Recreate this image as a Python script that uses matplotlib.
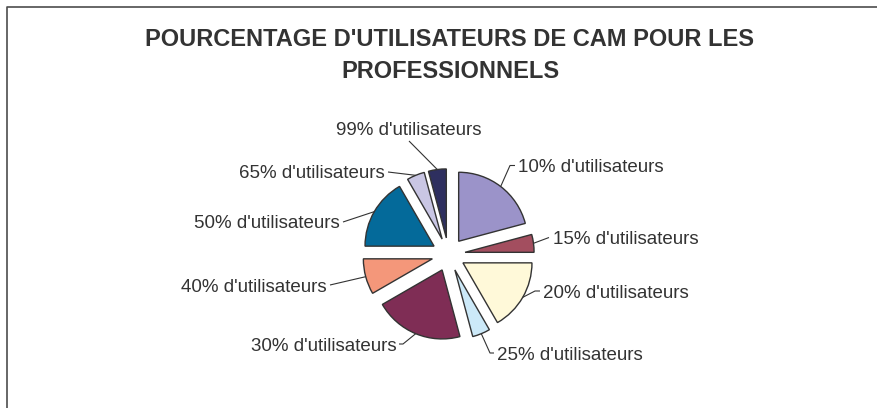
import matplotlib
matplotlib.use("Agg")
import matplotlib.pyplot as plt
import numpy as np

# ---------------- data ----------------
categories = ["10% d'utilisateurs", "15% d'utilisateurs", "20% d'utilisateurs",
              "25% d'utilisateurs", "30% d'utilisateurs", "40% d'utilisateurs",
              "50% d'utilisateurs", "65% d'utilisateurs", "99% d'utilisateurs"]
counts = [5, 1, 4, 1, 5, 2, 4, 1, 1]
colors = ["#9B93C9", "#A34E5F", "#FFF9D9", "#CCE9F8", "#7F2D55",
          "#F4977A", "#046A9A", "#C9C6E4", "#2E2F5F"]
title_lines = ["POURCENTAGE D'UTILISATEURS DE CAM POUR LES", "PROFESSIONNELS"]

# ---------------- layout (pixels, y from top) ----------------
W, H = 878, 408
PIE_CENTER = (448.5, 254.5)
PIE_RADIUS = 69
EXPLODE_PX = 16.7   # offset of each slice (matplotlib uses data units)
# text x, baseline y, alignment, leader knee points
label_layout = [
    (518, 172.4, "left", [(510, 165.5), (515, 165.5)]),
    (553, 243.7, "left", [(549, 237.5)]),
    (543, 297.7, "left", [(535, 291), (540, 291)]),
    (497, 359.7, "left", [(490, 353), (494, 353)]),
    (397, 350.7, "right", [(403, 344), (399, 344)]),
    (327, 291.7, "right", [(330, 285)]),
    (340, 228.4, "right", [(343, 222)]),
    (385, 178.4, "right", [(388, 172)]),
    (408.5, 134.7, "center", [(409, 141)]),
]
TEXT_COLOR = "#333333"
FONT = "Liberation Sans"


def Y(py):
    return H - py


fig = plt.figure(figsize=(W / 100, H / 100), dpi=100)
fig.patch.set_facecolor("white")
ax = fig.add_axes([0, 0, 1, 1])

wedges, _ = ax.pie(counts, colors=colors, startangle=90, counterclock=False,
                   radius=PIE_RADIUS, center=(PIE_CENTER[0], Y(PIE_CENTER[1])),
                   explode=[EXPLODE_PX] * len(counts),
                   wedgeprops=dict(edgecolor="#333333", linewidth=1.0),
                   frame=True)
ax.set_xlim(0, W)
ax.set_ylim(0, H)
ax.set_aspect("equal")
ax.axis("off")

# labels and leader lines
for w, lab, (tx, ty, ha, knees) in zip(wedges, categories, label_layout):
    th = np.deg2rad((w.theta1 + w.theta2) / 2)
    cx, cy = w.center
    sx, sy = cx + w.r * np.cos(th), cy + w.r * np.sin(th)
    xs = [sx] + [k[0] for k in knees]
    ys = [sy] + [Y(k[1]) for k in knees]
    ax.plot(xs, ys, color="#333333", lw=0.8, solid_capstyle="butt")
    ax.text(tx, Y(ty), lab, ha=ha, va="baseline", fontsize=13.5,
            family=FONT, color=TEXT_COLOR)

# title
ax.text(450, Y(45.5), title_lines[0], ha="center", va="baseline",
        fontsize=17, fontweight="bold", family=FONT, color=TEXT_COLOR)
ax.text(450, Y(78.5), title_lines[1], ha="center", va="baseline",
        fontsize=17, fontweight="bold", family=FONT, color=TEXT_COLOR)

# chart-area border (top and left visible)
ax.plot([7, 7, W + 5], [Y(H + 5), Y(7), Y(7)], color="#4d4d4d", lw=1.2,
        clip_on=False)

fig.savefig("out.png", dpi=100, facecolor="white")
